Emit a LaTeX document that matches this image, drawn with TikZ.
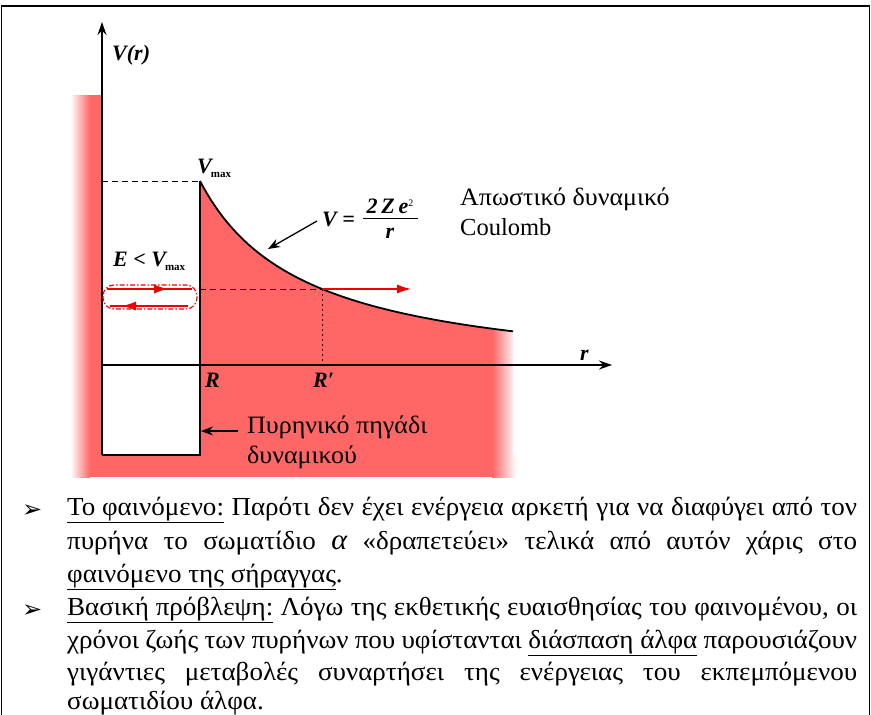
\documentclass[tikz,border=0pt]{standalone}
\usepackage{fontspec}
\setmainfont{LiberationSerif}[Extension=.ttf, UprightFont=*-Regular, BoldFont=*-Bold, ItalicFont=*-Italic, BoldItalicFont=*-BoldItalic]
\newfontfamily\grkfont{LiberationSerif}[Extension=.ttf, UprightFont=*-Regular, BoldFont=*-Bold, ItalicFont=*-Italic, BoldItalicFont=*-BoldItalic, FakeStretch=1.04]
\newfontfamily\arrowsymfont{DejaVu Sans}
\usetikzlibrary{arrows.meta}
\definecolor{wellred}{RGB}{255,102,102}
\definecolor{arrred}{RGB}{238,0,0}
\tikzset{
  axisline/.style={line width=1.2pt, -{Stealth[length=13pt,width=9pt]}},
  blackline/.style={line width=1.2pt},
  lbl/.style={inner sep=0pt, anchor=base west, font=\fontsize{22}{24}\selectfont\bfseries\itshape},
  grk/.style={inner sep=0pt, anchor=base west, font=\grkfont\fontsize{25}{28}\selectfont},
  body/.style={inner sep=0pt, anchor=base west, font=\grkfont\fontsize{26}{30}\selectfont},
  bulletmark/.style={inner sep=0pt, anchor=base west, font=\arrowsymfont\fontsize{24}{26}\selectfont},
  redarrow/.style={draw=arrred, line width=1.1pt, -{Latex[length=14pt,width=9pt]}},
  pointer/.style={line width=1.3pt, -{Stealth[length=12pt,width=9pt]}},
}
\newcommand{\maxsub}{\kern-1pt\raisebox{-4pt}{\normalfont\bfseries\fontsize{11}{11}\selectfont max}}
\begin{document}
\begin{tikzpicture}[x=1pt,y=-1pt]
\useasboundingbox (0,0) rectangle (871,715);
\fill[white] (0,0) rectangle (871,715);
% frame
\draw[line width=1.3pt] (1.5,740) -- (1.5,6) -- (869.5,6) -- (869.5,740);

% red regions
\shade[left color=wellred!8, right color=wellred] (72,95) rectangle (90,477);
\fill[wellred] (90,95) rectangle (102,477);
\fill[wellred] (102,455) rectangle (492,477);
\begin{scope}
  \clip (200,181) -- plot[domain=200:513,samples=80] (\x,{381.6-209.94/((\x-95.36)/100)}) -- (513,477) -- (200,477) -- cycle;
  \fill[wellred] (200,170) rectangle (492,477);
  \shade[left color=wellred, right color=white] (492,170) rectangle (516,477);
\end{scope}
\shade[left color=wellred, right color=white] (492,455) rectangle (516,477);
\fill[white] (102,95) rectangle (200,455);

% key points
\coordinate (top) at (102,22);
\coordinate (wellBL) at (102,455);
\coordinate (wellBR) at (200,455);
\coordinate (Vmax) at (200,181);
\coordinate (yVmax) at (102,181);
\coordinate (O) at (102,365);
\coordinate (rEnd) at (612,365);
\coordinate (Eleft) at (200,289);
\coordinate (Rp) at (322,289);
\coordinate (RpAxis) at (322,365);
\coordinate (Eout) at (411,289);

% curve
\draw[line width=1.8pt] plot[domain=200:513,samples=80] (\x,{381.6-209.94/((\x-95.36)/100)});

% well and axes
\draw[blackline] (wellBL) -- (wellBR) -- (Vmax);
\draw[axisline] (wellBL) -- (top);
\draw[axisline] (O) -- (rEnd);
\draw[line width=1pt, dash pattern=on 6pt off 4pt] (yVmax) -- (Vmax);
\draw[line width=1pt, dash pattern=on 6pt off 4pt] (Eleft) -- (Rp);
\draw[line width=1pt, dash pattern=on 2pt off 3pt] (Rp) -- (RpAxis);

% red arrows in the well
\coordinate (a1s) at (107,289);
\coordinate (a1m) at (168,289);
\coordinate (a1e) at (192,289);
\coordinate (a2s) at (188,306);
\coordinate (a2m) at (122,306);
\coordinate (a2e) at (110,306);
\draw[draw=arrred, line width=1.1pt] (a1s) -- (a1e);
\draw[redarrow] (a1s) -- (a1m);
\draw[draw=arrred, line width=1.1pt] (a2s) -- (a2e);
\draw[redarrow] (a2s) -- (a2m);
\draw[draw=arrred, line width=1.1pt, dash pattern=on 5pt off 2pt on 1.5pt off 2pt, rounded corners=11pt] (103,285) rectangle (197,309);
\draw[redarrow] (Rp) -- (Eout);

% labels
\node[lbl] (vr) at (112,60) {V(r)};
\node[lbl] (vmaxl) at (197,173) {V\maxsub};
\node[lbl] (elv) at (113,266) {E < V\maxsub};
\node[lbl] (rl) at (205,387) {R};
\node[lbl] (rpl) at (313,387) {R′};
\node[lbl] (rax) at (580,360) {r};

% formula
\node[lbl] (fv) at (322,226) {V = };
\node[lbl, anchor=base] (num) at (390,213) {2\,Z\,e\raisebox{7pt}{\normalfont\fontsize{10}{10}\selectfont 2}};
\draw[line width=1pt] (363,218) -- (418,218);
\node[lbl, anchor=base] (den) at (390,238) {r};
\coordinate (fp1) at (317,221);
\coordinate (fp2) at (268,249);
\draw[pointer] (fp1) -- (fp2);

% greek annotations
\node[grk] (rep1) at (460,205) {Απωστικό δυναμικό};
\node[grk] (rep2) at (460,235) {\normalfont\fontsize{24.5}{28}\selectfont Coulomb};
\node[grk] (well1) at (247,433) {Πυρηνικό πηγάδι};
\node[grk] (well2) at (247,463) {δυναμικού};
\coordinate (wp1) at (238,431);
\coordinate (wp2) at (201,431);
\draw[pointer] (wp1) -- (wp2);

% bottom text
\node[bulletmark] (b1) at (22,517) {➢};
\node[bulletmark] (b2) at (22,617) {➢};
\node[body] (l1) at (67,515) {\makebox[790pt][s]{\underline{Το φαινόμενο:} Παρότι δεν έχει ενέργεια αρκετή για να διαφύγει από τον}};
\node[body] (l2) at (67,549) {\makebox[790pt][s]{πυρήνα το σωματίδιο {\itshape\fontsize{29}{30}\selectfont α} «δραπετεύει» τελικά από αυτόν χάρις στο}};
\node[body] (l3) at (67,582) {\underline{φαινόμενο της σήραγγας}.};
\node[body] (l4) at (67,615) {\makebox[790pt][s]{\underline{Βασική πρόβλεψη:} Λόγω της εκθετικής ευαισθησίας του φαινομένου, οι}};
\node[body] (l5) at (67,648) {\makebox[790pt][s]{χρόνοι ζωής των πυρήνων που υφίστανται \underline{διάσπαση άλφα} παρουσιάζουν}};
\node[body] (l6) at (67,680) {\makebox[790pt][s]{γιγάντιες μεταβολές συναρτήσει της ενέργειας του εκπεμπόμενου}};
\node[body] (l7) at (67,709) {σωματιδίου άλφα.};
\end{tikzpicture}
\end{document}
